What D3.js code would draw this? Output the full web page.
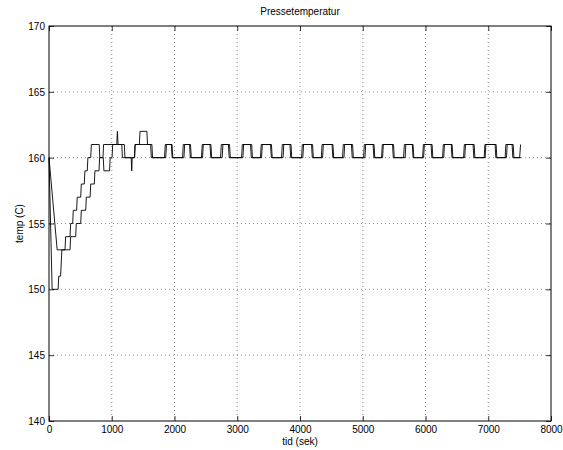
<!DOCTYPE html>
<html>
<head>
<meta charset="utf-8">
<script src="https://cdn.jsdelivr.net/npm/d3@7/dist/d3.min.js"></script>
<style>
  html, body { margin: 0; padding: 0; background: #fff; }
  svg { display: block; font-family: "Liberation Sans", Arial, Helvetica, sans-serif; }
</style>
</head>
<body>
<svg id="chart" width="563" height="450"></svg>
<script>
// Axis ticks
const xTicks = [0, 1000, 2000, 3000, 4000, 5000, 6000, 7000, 8000];
const yTicks = [140, 145, 150, 155, 160, 165, 170];

// Sensor A: start-up transient as [time (s), temp (C)] vertices
const sensorAStart = [
  [0,160],[50,150],[145,150],[155,151],[185,151],[195,152],[205,153],
  [335,153],[345,154],[425,154],[435,155],[505,155],[515,156],[585,156],
  [595,157],[655,157],[665,158],[722,158],[732,159],[797,159],[807,160],
  [860,160],[870,161],[1160,161],[1170,160],[1310,160],[1318,159],[1326,160],
  [1365,160],[1375,161],[1440,161],[1450,162],[1560,162],[1570,161],
  [1640,161],[1650,160]
];
// Sensor A: regulation pulses 160 -> 161 -> 160, as [rise, fall] times
const sensorAPulses = [
  [1841,1961],[2128,2240],[2447,2566],[2734,2877],[3069,3212],[3387,3531],
  [3706,3857],[4025,4184],[4360,4511],[4678,4838],[5013,5165],[5316,5475],
  [5651,5802],[5954,6089],[6272,6424],[6607,6758],[6950,7109],[7269,7397]
];
const sensorAEnd = [[7500,160],[7515,161]];

// Sensor B
const sensorBStart = [
  [0,160],[130,153],[255,153],[265,154],[335,154],[345,155],[377,155],
  [387,156],[440,156],[450,157],[505,157],[515,158],[562,158],[572,159],
  [610,159],[620,160],[665,160],[675,161],[800,161],[810,160],[865,160],
  [875,159],[965,159],[975,160],[1005,160],[1015,161],[1080,161],[1090,162],
  [1100,161],[1200,161],[1210,160],[1360,160],[1370,161],[1620,161],[1630,160]
];
const sensorBPulses = [
  [1860,1950],[2150,2255],[2430,2580],[2760,2860],[3090,3230],[3370,3545],
  [3730,3840],[4045,4200],[4340,4525],[4700,4820],[5035,5180],[5300,5490],
  [5675,5790],[5970,6105],[6290,6410],[6625,6775],[6935,7125],[7290,7380]
];
const sensorBEnd = [[7520,160]];

const low = 160, high = 161, edge = 12; // edge: sample interval of a switch (s)

function buildSeries(start, pulses, end) {
  const pts = start.slice();
  pulses.forEach(([r, f]) => {
    pts.push([r, low], [r + edge, high], [f, high], [f + edge, low]);
  });
  return pts.concat(end);
}

const series = [
  buildSeries(sensorAStart, sensorAPulses, sensorAEnd),
  buildSeries(sensorBStart, sensorBPulses, sensorBEnd)
];

const svg = d3.select("#chart");
const m = { left: 49, right: 551, top: 26, bottom: 421 };

const x = d3.scaleLinear().domain([0, 8000]).range([m.left, m.right]);
const y = d3.scaleLinear().domain([140, 170]).range([m.bottom, m.top]);

// grid
const grid = svg.append("g").attr("stroke", "#444").attr("stroke-width", 0.6)
  .attr("stroke-dasharray", "1,3");
xTicks.slice(1, -1).forEach(t => {
  grid.append("line").attr("x1", x(t)).attr("x2", x(t))
    .attr("y1", m.top).attr("y2", m.bottom);
});
yTicks.slice(1, -1).forEach(t => {
  grid.append("line").attr("x1", m.left).attr("x2", m.right)
    .attr("y1", y(t)).attr("y2", y(t));
});

// data lines
const line = d3.line().x(d => x(d[0])).y(d => y(d[1]));
svg.append("g").selectAll("path").data(series).join("path")
  .attr("d", line)
  .attr("fill", "none")
  .attr("stroke", "#000")
  .attr("stroke-width", 0.9)
  .attr("stroke-linejoin", "miter");

// axes (ticks pointing inward on all four sides)
const tickLen = 5;
const fmt = d3.format("d");
const axB = svg.append("g").attr("transform", `translate(0,${m.bottom})`)
  .call(d3.axisBottom(x).tickValues(xTicks).tickFormat(fmt).tickSizeInner(-tickLen).tickSizeOuter(0).tickPadding(5));
const axT = svg.append("g").attr("transform", `translate(0,${m.top})`)
  .call(d3.axisTop(x).tickValues(xTicks).tickFormat("").tickSizeInner(-tickLen).tickSizeOuter(0));
const axL = svg.append("g").attr("transform", `translate(${m.left},0)`)
  .call(d3.axisLeft(y).tickValues(yTicks).tickFormat(fmt).tickSizeInner(-tickLen).tickSizeOuter(0).tickPadding(4));
const axR = svg.append("g").attr("transform", `translate(${m.right},0)`)
  .call(d3.axisRight(y).tickValues(yTicks).tickFormat("").tickSizeInner(-tickLen).tickSizeOuter(0));
[axB, axT, axL, axR].forEach(a => {
  a.select(".domain").remove();
  a.selectAll("line").attr("stroke", "#000").attr("stroke-width", 0.8);
  a.selectAll("text").attr("font-size", 10).attr("fill", "#000")
    .attr("font-family", "'Liberation Sans', Arial, sans-serif");
});
axL.selectAll("text").attr("dy", "0.35em");

// box
svg.append("rect").attr("x", m.left).attr("y", m.top)
  .attr("width", m.right - m.left).attr("height", m.bottom - m.top)
  .attr("fill", "none").attr("stroke", "#000").attr("stroke-width", 1);

// labels
svg.append("text").attr("x", (m.left + m.right) / 2).attr("y", 15)
  .attr("text-anchor", "middle").attr("font-size", 10).text("Pressetemperatur");
svg.append("text").attr("x", (m.left + m.right) / 2).attr("y", 445)
  .attr("text-anchor", "middle").attr("font-size", 10).text("tid (sek)");
svg.append("text").attr("transform", `translate(23,${(m.top + m.bottom) / 2}) rotate(-90)`)
  .attr("text-anchor", "middle").attr("font-size", 10).text("temp (C)");
</script>
</body>
</html>
